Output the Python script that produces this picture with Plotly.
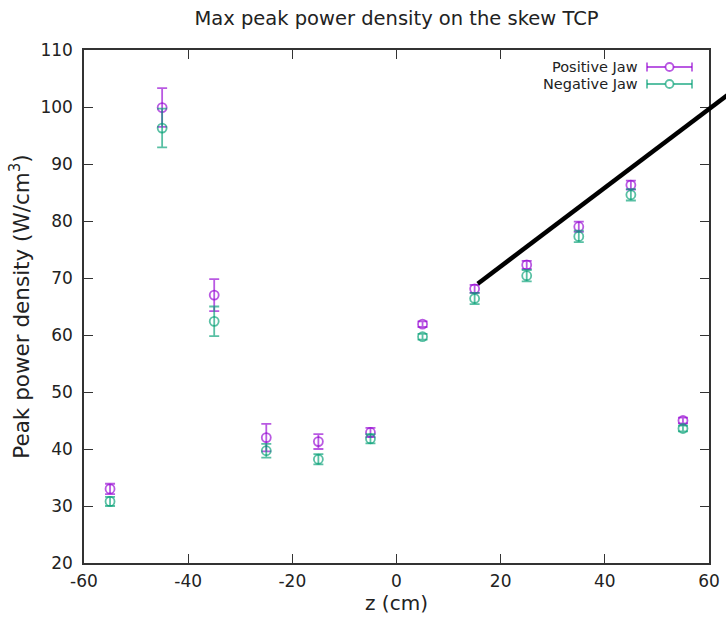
import plotly.graph_objects as go

# ---- data ----
z = [-55, -45, -35, -25, -15, -5, 5, 15, 25, 35, 45, 55]
pos_jaw = [33.0, 99.9, 67.0, 42.0, 41.3, 42.9, 61.9, 68.1, 72.3, 79.0, 86.3, 45.0]
pos_err = [0.9, 3.4, 2.8, 2.4, 1.3, 0.8, 0.5, 0.7, 0.7, 0.9, 0.8, 0.5]
neg_jaw = [30.8, 96.3, 62.4, 39.7, 38.2, 41.8, 59.7, 66.4, 70.4, 77.3, 84.6, 43.6]
neg_err = [0.8, 3.4, 2.6, 1.2, 0.9, 0.8, 0.5, 1.0, 1.0, 1.0, 1.0, 0.5]
series_names = ["Positive Jaw", "Negative Jaw"]
x_ticks = [-60, -40, -20, 0, 20, 40, 60]
x_tick_labels = ["-60", "-40", "-20", "0", "20", "40", "60"]
y_ticks = [20, 30, 40, 50, 60, 70, 80, 90, 100, 110]
# annotation line (data coordinates): start point and slope
line_start = (15.6, 69.0)
line_slope = 0.69
line_end_x = 63.5

X_RANGE = [-60, 60]
Y_RANGE = [20, 110]

PURPLE = "rgba(148,0,211,0.65)"
GREEN = "rgba(0,158,115,0.65)"
FONT = "DejaVu Sans"
TXT = "#222222"

fig = go.Figure()
for name, vals, errs, col in [
    (series_names[0], pos_jaw, pos_err, PURPLE),
    (series_names[1], neg_jaw, neg_err, GREEN),
]:
    fig.add_trace(go.Scatter(
        x=z, y=vals, mode="markers", name=name,
        marker=dict(symbol="circle-open", size=9, color=col, line=dict(width=1.8, color=col)),
        error_y=dict(type="data", array=errs, visible=True, color=col, thickness=1.8, width=5),
        showlegend=False,
    ))

def px(xv):
    return (xv - X_RANGE[0]) / (X_RANGE[1] - X_RANGE[0])

def py(yv):
    return (yv - Y_RANGE[0]) / (Y_RANGE[1] - Y_RANGE[0])

shapes = []
x0, y0 = line_start
y1 = y0 + line_slope * (line_end_x - x0)
shapes.append(dict(type="line", xref="paper", yref="paper",
                   x0=px(x0), y0=py(y0), x1=px(line_end_x), y1=py(y1),
                   line=dict(color="black", width=4.5)))

W, H = 726, 619
L, R, T, B = 84, 17, 50, 56
pw, ph = W - L - R, H - T - B
def pxp(xpix):  # page pixel -> paper
    return (xpix - L) / pw
def pyp(ypix):
    return 1 - (ypix - T) / ph

# custom gnuplot-style legend (text then sample)
annotations = []
for i, (name, col) in enumerate(zip(series_names, [PURPLE, GREEN])):
    yy = 67 + i * 17
    annotations.append(dict(xref="paper", yref="paper", x=pxp(640), y=pyp(yy),
                            text=name, showarrow=False, xanchor="right", yanchor="middle",
                            font=dict(family=FONT, size=14.5, color=TXT)))
    shapes.append(dict(type="line", xref="paper", yref="paper", x0=pxp(647), x1=pxp(692),
                       y0=pyp(yy), y1=pyp(yy), line=dict(color=col, width=1.8)))
    for xe in (647, 692):
        shapes.append(dict(type="line", xref="paper", yref="paper", x0=pxp(xe), x1=pxp(xe),
                           y0=pyp(yy - 4.5), y1=pyp(yy + 4.5), line=dict(color=col, width=1.8)))
    shapes.append(dict(type="circle", xref="paper", yref="paper", xsizemode="pixel", ysizemode="pixel",
                       xanchor=pxp(669.5), yanchor=pyp(yy), x0=-4, x1=4, y0=-4, y1=4,
                       fillcolor="white", line=dict(color=col, width=1.8)))

axis_common = dict(showline=True, linecolor="#333333", linewidth=1.5, mirror="ticks",
                   ticks="inside", ticklen=9, tickwidth=1.3, tickcolor="#333333",
                   showgrid=False, zeroline=False, automargin=False,
                   tickfont=dict(family=FONT, size=17, color=TXT))

fig.update_layout(
    width=W, height=H,
    margin=dict(l=L, r=R, t=T, b=B),
    paper_bgcolor="white", plot_bgcolor="white",
    title=dict(text="Max peak power density on the skew TCP", x=(L + pw / 2) / W, xanchor="center",
               y=1 - 18 / H, yanchor="middle",
               font=dict(family=FONT, size=19.5, color=TXT)),
    xaxis=dict(range=X_RANGE, tickvals=x_ticks, ticktext=x_tick_labels, ticklabelstandoff=2,
               title=dict(text="z (cm)", standoff=5, font=dict(family=FONT, size=20, color=TXT)),
               **axis_common),
    yaxis=dict(range=Y_RANGE, tickvals=y_ticks, ticklabelstandoff=6,
               title=dict(text="Peak power density (W/cm<sup>3</sup>)", standoff=5,
                          font=dict(family=FONT, size=21.5, color=TXT)),
               **axis_common),
    shapes=shapes, annotations=annotations, showlegend=False,
)

fig.write_html("out.html", config={"displayModeBar": False},
               post_script="document.body.style.margin='0';document.body.style.overflow='hidden';")
